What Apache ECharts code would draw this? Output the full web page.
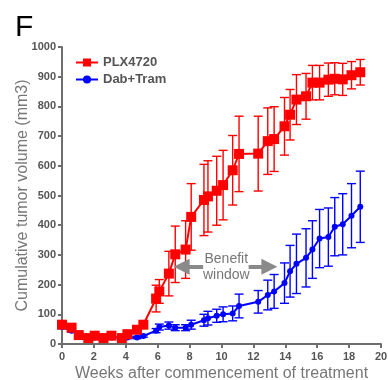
<!DOCTYPE html>
<html>
<head>
<meta charset="utf-8">
<script src="https://cdn.jsdelivr.net/npm/echarts@6/dist/echarts.min.js"></script>
<style>
  html, body { margin: 0; padding: 0; background: #fff; }
  #chart { width: 388px; height: 380px; }
</style>
</head>
<body>
<div id="chart"></div>
<script>
// Weeks after start of treatment (shared by both groups)
const weeks = [0, 0.6, 1.05, 1.65, 2.05, 2.6, 3.1, 3.75, 4.1, 4.7, 5.1, 5.9, 6.1, 6.7, 7.1, 7.75, 8.1, 8.9, 9.15, 9.7, 10.1, 10.7, 11.1, 12.3, 12.9, 13.3, 13.95, 14.3, 14.7, 15.3, 15.7, 16.15, 16.7, 17.1, 17.6, 18.15, 18.7];

// PLX4720 group: mean volume and SEM (mm3)
const plxMean = [65, 55, 30, 20, 28, 20, 28, 20, 33, 48, 65, 153, 177, 237, 302, 318, 428, 485, 497, 516, 535, 585, 640, 641, 683, 690, 733, 772, 823, 834, 880, 880, 890, 893, 891, 905, 915];
const plxErr  = [6, 6, 5, 5, 5, 5, 5, 5, 5, 6, 8, 45, 40, 75, 95, 97, 112, 120, 120, 116, 117, 117, 127, 126, 112, 109, 97, 85, 84, 77, 58, 58, 56, 54, 54, 46, 43];

// Dab+Tram group: mean volume and SEM (mm3)
const dabMean = [57, 45, 30, 22, 22, 17, 22, 20, 22, 22, 27, 45, 57, 62, 55, 55, 65, 80, 87, 95, 100, 103, 128, 142, 165, 177, 205, 245, 270, 290, 318, 355, 360, 395, 403, 432, 462];
const dabErr  = [5, 5, 4, 4, 4, 4, 4, 4, 4, 4, 4, 7, 10, 12, 10, 10, 15, 20, 23, 22, 25, 25, 40, 38, 50, 57, 68, 87, 100, 98, 97, 98, 98, 98, 103, 108, 120];

const seriesNames = ['PLX4720', 'Dab+Tram'];
const RED = '#ff0000';
const BLUE = '#0000ff';
const GREY = '#6e6e6e';
const FONT = '"Liberation Sans", Arial, sans-serif';

const pairs = (xs, ys) => xs.map((x, i) => [x, ys[i]]);
const bars = (xs, m, e) => xs.map((x, i) => [x, m[i] - e[i], m[i] + e[i]]);

// Vertical SEM bar with caps at both ends
function errorBars(color) {
  return function (params, api) {
    const x = api.value(0);
    const lo = api.coord([x, api.value(1)]);
    const hi = api.coord([x, api.value(2)]);
    const w = 4.5;
    const st = { stroke: color, lineWidth: 1.4 };
    return {
      type: 'group',
      children: [
        { type: 'line', shape: { x1: lo[0], y1: lo[1], x2: hi[0], y2: hi[1] }, style: st },
        { type: 'line', shape: { x1: hi[0] - w, y1: hi[1], x2: hi[0] + w, y2: hi[1] }, style: st },
        { type: 'line', shape: { x1: lo[0] - w, y1: lo[1], x2: lo[0] + w, y2: lo[1] }, style: st }
      ]
    };
  };
}

const chart = echarts.init(document.getElementById('chart'), null, { renderer: 'canvas' });

chart.setOption({
  animation: false,
  textStyle: { fontFamily: FONT },
  title: {
    text: 'F', left: 10, top: 8,
    textStyle: { fontSize: 30, fontWeight: 'normal', color: '#000', fontFamily: FONT }
  },
  grid: { left: 62, right: 7, top: 47, bottom: 36, outerBoundsMode: 'none', containLabel: false },
  legend: {
    data: seriesNames,
    orient: 'vertical',
    left: 70, top: 51,
    itemWidth: 22, itemHeight: 10, itemGap: 4,
    textStyle: { fontSize: 13, fontWeight: 'bold', color: '#555', fontFamily: FONT }
  },
  xAxis: {
    type: 'value', min: 0, max: 20, interval: 2,
    name: 'Weeks after commencement of treatment',
    nameLocation: 'middle', nameGap: 22, nameMoveOverlap: false,
    nameTextStyle: { fontSize: 16, color: '#777', fontFamily: FONT },
    axisLine: { show: true, lineStyle: { color: GREY, width: 2 } },
    axisTick: { show: true, length: 4, lineStyle: { color: GREY, width: 2 } },
    axisLabel: { color: '#555', fontWeight: 'bold', fontSize: 11, margin: 7, fontFamily: FONT },
    splitLine: { show: false }
  },
  yAxis: {
    type: 'value', min: 0, max: 1000, interval: 100,
    name: 'Cumulative tumor volume (mm3)',
    nameLocation: 'middle', nameGap: 31, nameMoveOverlap: false,
    nameTextStyle: { fontSize: 16, color: '#777', fontFamily: FONT },
    axisLine: { show: true, lineStyle: { color: GREY, width: 2 } },
    axisTick: { show: true, length: 4, lineStyle: { color: GREY, width: 2 } },
    axisLabel: {
      color: '#555', fontWeight: 'bold', fontSize: 11, margin: 6, fontFamily: FONT,
      formatter: v => String(v)
    },
    splitLine: { show: false }
  },
  series: [
    {
      type: 'custom', name: 'PLX4720 SEM', renderItem: errorBars(RED),
      data: bars(weeks, plxMean, plxErr), encode: { x: 0, y: [1, 2] }, z: 4, silent: true
    },
    {
      type: 'custom', name: 'Dab+Tram SEM', renderItem: errorBars(BLUE),
      data: bars(weeks, dabMean, dabErr), encode: { x: 0, y: [1, 2] }, z: 2, silent: true
    },
    {
      type: 'line', name: seriesNames[1], data: pairs(weeks, dabMean),
      symbol: 'circle', symbolSize: 6, z: 3,
      itemStyle: { color: BLUE }, lineStyle: { color: BLUE, width: 2 },
      markLine: {
        silent: true, symbol: ['none', 'triangle'], symbolSize: 16,
        lineStyle: { color: '#8a8a8a', width: 4, type: 'solid' },
        label: { show: false },
        data: [
          [{ coord: [8.85, 260] }, { coord: [7.5, 260] }],
          [{ coord: [11.7, 260] }, { coord: [13.0, 260] }]
        ]
      },
      markPoint: {
        silent: true, symbol: 'circle', symbolSize: 0,
        label: {
          show: true, position: 'inside', formatter: 'Benefit\nwindow',
          color: '#777', fontSize: 14, lineHeight: 16, fontFamily: FONT
        },
        data: [{ coord: [10.3, 260] }]
      }
    },
    {
      type: 'line', name: seriesNames[0], data: pairs(weeks, plxMean),
      symbol: 'rect', symbolSize: 10, z: 5,
      itemStyle: { color: RED }, lineStyle: { color: RED, width: 2 }
    }
  ]
});
</script>
</body>
</html>
